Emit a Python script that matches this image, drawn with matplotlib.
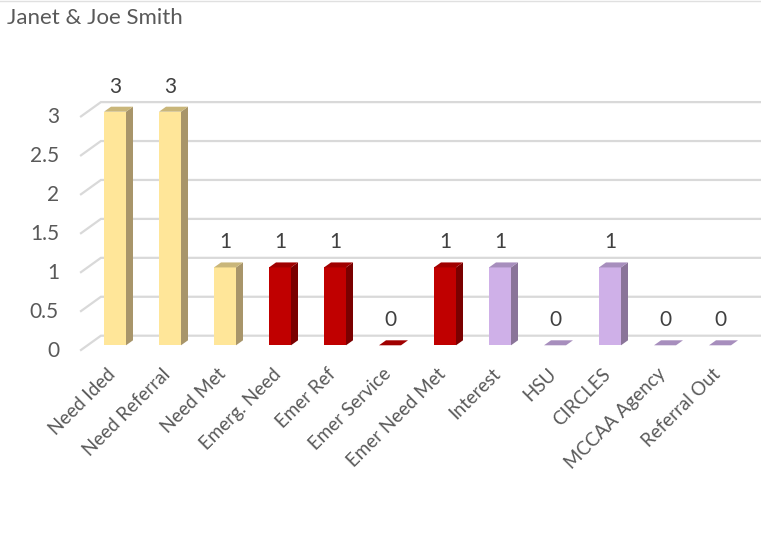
import matplotlib
matplotlib.use("Agg")
import matplotlib.pyplot as plt
from matplotlib.patches import Polygon
from matplotlib.lines import Line2D
import numpy as np

plt.rcParams['font.family'] = ['Lato', 'DejaVu Sans']

# ---- data ----
title = "Janet & Joe Smith"
categories = ["Need Ided", "Need Referral", "Need Met", "Emerg. Need", "Emer Ref",
              "Emer Service", "Emer Need Met", "Interest", "HSU", "CIRCLES",
              "MCCAA Agency", "Referral Out"]
values = [3, 3, 1, 1, 1, 0, 1, 1, 0, 1, 0, 0]
groups = ["need", "need", "need", "emer", "emer", "emer", "emer",
          "int", "int", "int", "int", "int"]
yticks = [0, 0.5, 1, 1.5, 2, 2.5, 3]
ytick_labels = ["0", "0.5", "1", "1.5", "2", "2.5", "3"]

# colours: front, side, top
palette = {
    "need": ("#FFE699", "#A8956A", "#C9B67A"),
    "emer": ("#C00000", "#7A0000", "#A00000"),
    "int": ("#CFB0E8", "#8A7499", "#A78EBD"),
}

W, H, DPI = 7.61, 5.44, 100
fig = plt.figure(figsize=(W, H), dpi=DPI)
FW, FH = W * DPI, H * DPI

# axes geometry in pixels (front plane of bars)
x_left_px, x_right_px = 87.5, 747.5
y0_px_top, y3_px_top = 345.3, 111.7
ax = fig.add_axes([x_left_px / FW, (FH - y0_px_top) / FH,
                   (x_right_px - x_left_px) / FW, (y0_px_top - y3_px_top) / FH])
n = len(categories)
ax.set_xlim(-0.5, n - 0.5)
ax.set_ylim(0, 3)
ax.axis("off")

px_x = n / (x_right_px - x_left_px)      # data units per pixel (x)
px_y = 3 / (y0_px_top - y3_px_top)       # data units per pixel (y)

# depth offsets (pixels)
bar_dx, bar_dy = 7, 5
floor_front = (-6.5, -4.7)
floor_back = (13.4, 9.6)

grid_col = "#D9D9D9"
for v in yticks:
    fx = -0.5 + floor_front[0] * px_x
    fy = v + floor_front[1] * px_y
    bx = -0.5 + floor_back[0] * px_x
    by = v + floor_back[1] * px_y
    ex = (n - 0.5) + floor_back[0] * px_x + 2 * px_x
    ax.plot([fx, bx, ex], [fy, by, by], color=grid_col, lw=1.6,
            clip_on=False, zorder=1, solid_joinstyle="miter")

x = np.arange(n)
width = 0.4
front_cols = [palette[g][0] for g in groups]
ax.bar(x, values, width=width, color=front_cols, zorder=3, clip_on=False)

ddx, ddy = bar_dx * px_x, bar_dy * px_y
for xi, v, g in zip(x, values, groups):
    fc, sc, tc = palette[g]
    l, r = xi - width / 2, xi + width / 2
    side = Polygon([(r, 0), (r, v), (r + ddx, v + ddy), (r + ddx, ddy)],
                   closed=True, facecolor=sc, edgecolor="none", zorder=3, clip_on=False)
    top = Polygon([(l, v), (r, v), (r + ddx, v + ddy), (l + ddx, v + ddy)],
                  closed=True, facecolor=tc, edgecolor="none", zorder=4, clip_on=False)
    ax.add_patch(side)
    ax.add_patch(top)
    ax.annotate(str(v), (xi, v), xytext=(0, 25), textcoords="offset pixels",
                ha="center", va="center", fontsize=15, color="#404040",
                annotation_clip=False)

# y tick labels
for v, lab in zip(yticks, ytick_labels):
    ax.annotate(lab, (-0.5, v), xytext=(floor_front[0] - 22, floor_front[1] - 1),
                textcoords="offset pixels", ha="right", va="center",
                fontsize=15, color="#595959", annotation_clip=False)

# x tick labels
for xi, lab in zip(x, categories):
    ax.annotate(lab, (xi, 0), xytext=(-2, -26), textcoords="offset pixels",
                ha="right", va="center", rotation=45, rotation_mode="anchor",
                fontsize=13.5, color="#595959", annotation_clip=False)

fig.text(7 / FW, 1 - 18 / FH, title, ha="left", va="center",
         fontsize=16, color="#595959")

# faint top border of the chart area
fig.add_artist(Line2D([0, 1], [1 - 0.5 / FH, 1 - 0.5 / FH], transform=fig.transFigure,
                      color="#E0E0E0", lw=1.0))

fig.savefig("out.png", dpi=DPI)
